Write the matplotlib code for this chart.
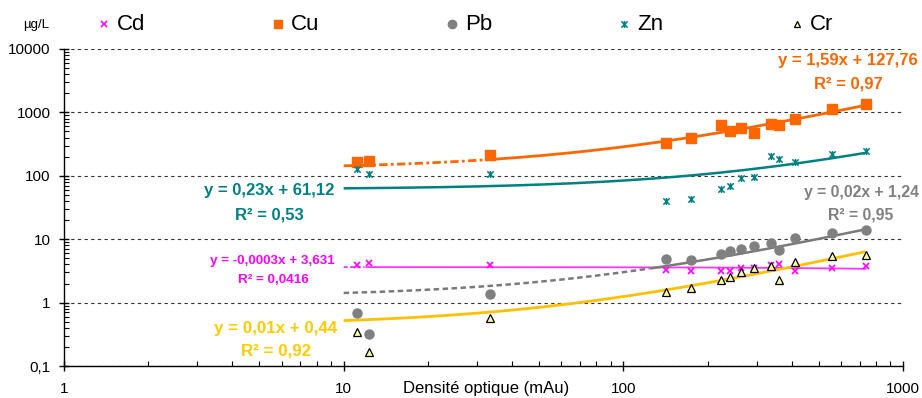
import numpy as np
import matplotlib
matplotlib.use("Agg")
import matplotlib.pyplot as plt
from matplotlib.ticker import LogLocator, FuncFormatter, NullFormatter
from matplotlib.path import Path

plt.rcParams['font.family'] = ['Liberation Sans', 'DejaVu Sans']

# ---------------- data ----------------
density = [11.2, 12.3, 33.4, 141.6, 174.5, 223, 240.5, 263, 293, 337, 361, 411, 558, 735]
cd = [3.92, 4.26, 3.9, 3.27, 3.18, 3.12, 3.12, 3.48, 3.5, 3.92, 4.02, 3.15, 3.55, 3.82]
cu = [165, 174, 213, 333, 390, 627, 514, 561, 479, 664, 640, 778, 1132, 1343]
pb = [0.68, 0.32, 1.38, 4.82, 4.70, 5.78, 6.45, 7.08, 7.72, 8.81, 6.76, 10.3, 12.5, 14.1]
zn = [127, 107, 107, 40.5, 42.6, 62.7, 69, 92.3, 94.6, 207, 182, 163, 221, 250]
cr = [0.35, 0.164, 0.58, 1.49, 1.68, 2.28, 2.57, 3.01, 3.47, 3.82, 2.28, 4.32, 5.5, 5.64]

series_names = ["Cd", "Cu", "Pb", "Zn", "Cr"]
# linear trendline coefficients (slope, intercept) as drawn
trend_slope = {"Cd": -0.0003, "Cu": 1.59, "Pb": 0.0178, "Zn": 0.23, "Cr": 0.00805}
trend_icpt = {"Cd": 3.631, "Cu": 127.76, "Pb": 1.24, "Zn": 61.12, "Cr": 0.44}
eq_labels = {"Cd": "y = -0,0003x + 3,631", "Cu": "y = 1,59x + 127,76",
             "Pb": "y = 0,02x + 1,24", "Zn": "y = 0,23x + 61,12", "Cr": "y = 0,01x + 0,44"}
r2_labels = {"Cd": "R² = 0,0416", "Cu": "R² = 0,97", "Pb": "R² = 0,95",
             "Zn": "R² = 0,53", "Cr": "R² = 0,92"}
y_ticks = [0.1, 1, 10, 100, 1000, 10000]
x_ticks = [1, 10, 100, 1000]

values = {"Cd": cd, "Cu": cu, "Pb": pb, "Zn": zn, "Cr": cr}

# ---------------- styles ----------------
star = Path([(-1, -1), (1, 1), (-1, 1), (1, -1), (0, -1.1), (0, 1.1)],
            [Path.MOVETO, Path.LINETO, Path.MOVETO, Path.LINETO, Path.MOVETO, Path.LINETO])
mstyle = {
    "Cd": dict(marker='x', ms=5, mew=1.2, color='#FF00FF', mec='#FF00FF'),
    "Cu": dict(marker='s', ms=6.5, color='#FF6600', mec='#FF6600', mfc='#FF6600'),
    "Pb": dict(marker='o', ms=6.5, color='#808080', mec='#808080', mfc='#808080'),
    "Zn": dict(marker=star, ms=5, mew=1.1, color='#008080', mec='#008080'),
    "Cr": dict(marker='^', ms=6, mew=0.9, color='#FFFF99', mfc='#FFFFAA', mec='black'),
}
line_color = {"Cd": '#FF33FF', "Cu": '#FF6600', "Pb": '#7A7A7A', "Zn": '#008080', "Cr": '#FFC000'}
line_w = {"Cd": 1.3, "Cu": 2.0, "Pb": 1.8, "Zn": 1.8, "Cr": 2.0}
dash_split = {"Cd": 12.0, "Cu": 35.0, "Pb": 125.0, "Zn": None, "Cr": None}
text_color = {"Cd": '#FF00FF', "Cu": '#FF6600', "Pb": '#808080', "Zn": '#008080', "Cr": '#FFCC00'}

# ---------------- figure ----------------
W, H = 922, 398
fig = plt.figure(figsize=(W / 100, H / 100), dpi=100)
ax = fig.add_axes([64 / W, 1 - 366 / H, (903 - 64) / W, (366 - 49) / H])
ax.set_xscale('log')
ax.set_yscale('log')
ax.set_xlim(1, 1000)
ax.set_ylim(0.1, 10000)

for s in ["top", "right"]:
    ax.spines[s].set_visible(False)
for s in ["left", "bottom"]:
    ax.spines[s].set_color('black')
    ax.spines[s].set_linewidth(1.0)

ax.yaxis.grid(True, which='major', linestyle=(0, (3, 3)), color='#333333', lw=0.8)
ax.set_axisbelow(True)

ax.xaxis.set_major_locator(LogLocator(base=10, numticks=10))
ax.xaxis.set_minor_locator(LogLocator(base=10, subs=np.arange(2, 10), numticks=100))
ax.yaxis.set_major_locator(LogLocator(base=10, numticks=10))
ax.yaxis.set_minor_locator(LogLocator(base=10, subs=np.arange(2, 10), numticks=100))
ax.set_xticks(x_ticks)
ax.set_yticks(y_ticks)
ax.xaxis.set_major_formatter(FuncFormatter(lambda v, p: f"{v:g}".replace('.', ',')))
ax.yaxis.set_major_formatter(FuncFormatter(lambda v, p: f"{v:g}".replace('.', ',')))
ax.xaxis.set_minor_formatter(NullFormatter())
ax.yaxis.set_minor_formatter(NullFormatter())
ax.tick_params(axis='both', which='major', direction='inout', length=7, width=1, labelsize=11, colors='black')
ax.tick_params(axis='both', which='minor', direction='in', length=3.5, width=0.8)
ax.tick_params(axis='x', which='major', pad=8)
ax.tick_params(axis='y', which='major', pad=6)
ax.set_xlim(1, 1000)
ax.set_ylim(0.1, 10000)

# trendlines
for name in series_names:
    a, b = trend_slope[name], trend_icpt[name]
    xt = np.logspace(np.log10(10.0), np.log10(max(density)), 300)
    yt = a * xt + b
    sp = dash_split[name]
    if sp is None:
        ax.plot(xt, yt, color=line_color[name], lw=line_w[name], zorder=2, solid_capstyle='butt')
    else:
        m1 = xt <= sp
        m2 = xt >= sp
        dashes = (3, 1.2, 1, 1.2) if name == "Cu" else (2.2, 1.4)
        ax.plot(xt[m1], yt[m1], color=line_color[name], lw=line_w[name], zorder=2,
                linestyle=(0, dashes))
        ax.plot(xt[m2], yt[m2], color=line_color[name], lw=line_w[name], zorder=2)

# data markers
for name in series_names:
    st = dict(mstyle[name])
    ax.plot(density, values[name], linestyle='none', zorder=3, **st)

# overlay in pixel coordinates for legend & annotations
ov = fig.add_axes([0, 0, 1, 1], zorder=5)
ov.set_xlim(0, W)
ov.set_ylim(H, 0)
ov.axis('off')

ov.text(36, 25, "µg/L", ha='center', va='center', fontsize=9.5, color='black')
leg_x = {"Cd": 104, "Cu": 278, "Pb": 452, "Zn": 624, "Cr": 797}
for name in series_names:
    st = dict(mstyle[name])
    if name in ("Cu", "Pb"):
        st['ms'] = 6.0
    if name == "Cr":
        st['ms'] = 5
    ov.plot([leg_x[name]], [24], linestyle='none', **st)
    ov.text(leg_x[name] + 13, 24, name, ha='left', va='center', fontsize=16, color='black')

eq_pos = {"Cu": ((848, 61), (848, 84)), "Zn": ((269, 191), (269, 215)),
          "Pb": ((861, 193), (861, 215)), "Cd": ((272, 261), (273, 280)),
          "Cr": ((276, 328), (276, 351))}
eq_size = {"Cu": 12, "Zn": 12, "Pb": 11.3, "Cd": 9.7, "Cr": 12.2}
for name in series_names:
    (ex, ey), (rx, ry) = eq_pos[name]
    ov.text(ex, ey, eq_labels[name], ha='center', va='center', fontsize=eq_size[name],
            fontweight='bold', color=text_color[name])
    ov.text(rx, ry, r2_labels[name], ha='center', va='center', fontsize=eq_size[name],
            fontweight='bold', color=text_color[name])

ov.text(486, 393.5, "Densité optique (mAu)", ha='center', va='baseline', fontsize=12, color='black')

fig.savefig("out.png", dpi=100)
